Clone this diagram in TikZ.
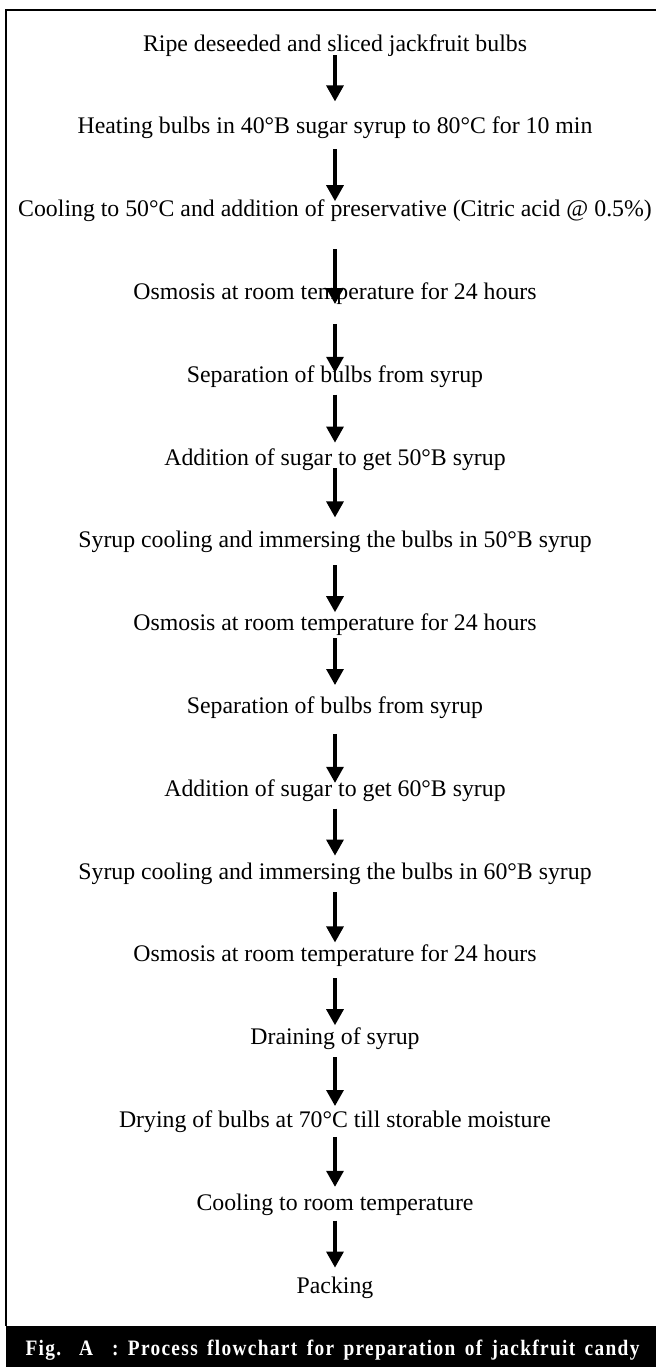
\documentclass[tikz,border=0pt]{standalone}
\usepackage{fontspec}
\setmainfont{Liberation Serif}
\usepackage{tikz}
\usetikzlibrary{positioning,arrows.meta}

\begin{document}
\begin{tikzpicture}[x=0.5pt,y=-0.5pt,
    stage/.style={inner sep=0pt,text height=8.5pt,text depth=2.5pt,font=\fontsize{11.9}{14}\selectfont},
    flow/.style={-{Triangle[width=8.5pt,length=8pt]},line width=1.6pt},
    node distance=30pt]
  \useasboundingbox (0,0) rectangle (656,1367);

  %frame and caption bar
  \draw[line width=0.6pt] (656,10) -- (6,10) -- (6,1326);
  \fill (6,1326) rectangle (656,1367);
  \node[text=white,inner sep=0pt,font=\bfseries\fontsize{11}{13}\selectfont\addfontfeature{FakeStretch=0.88,LetterSpace=6}] (cap) at (332.5,1350)
    {\makebox[307pt][s]{Fig. A\ \ : Process flowchart for preparation of jackfruit candy}};

  %stages
  \node[stage] (ripe) at (335,45) {Ripe deseeded and sliced jackfruit bulbs};
  \node[stage,below=of ripe] (heat) {Heating bulbs in 40°B sugar syrup to 80°C for 10 min};
  \node[stage,below=of heat] (cool) {Cooling to 50°C and addition of preservative (Citric acid @ 0.5\%)};
  \node[stage,below=of cool] (osmA) {Osmosis at room temperature for 24 hours};
  \node[stage,below=of osmA] (sepA) {Separation of bulbs from syrup};
  \node[stage,below=of sepA] (addA) {Addition of sugar to get 50°B syrup};
  \node[stage,below=of addA] (immA) {Syrup cooling and immersing the bulbs in 50°B syrup};
  \node[stage,below=of immA] (osmB) {Osmosis at room temperature for 24 hours};
  \node[stage,below=of osmB] (sepB) {Separation of bulbs from syrup};
  \node[stage,below=of sepB] (addB) {Addition of sugar to get 60°B syrup};
  \node[stage,below=of addB] (immB) {Syrup cooling and immersing the bulbs in 60°B syrup};
  \node[stage,below=of immB] (osmC) {Osmosis at room temperature for 24 hours};
  \node[stage,below=of osmC] (drain) {Draining of syrup};
  \node[stage,below=of drain] (dry) {Drying of bulbs at 70°C till storable moisture};
  \node[stage,below=of dry] (coolrt) {Cooling to room temperature};
  \node[stage,below=of coolrt] (pack) {Packing};

  %arrows
  \draw[flow,shorten <=-0.5pt,shorten >=7.5pt] (ripe) -- (heat);
  \draw[flow,shorten <=5pt,shorten >=-1pt] (heat) -- (cool);
  \draw[flow,shorten <=13.5pt,shorten >=-11pt] (cool) -- (osmA);
  \draw[flow,shorten <=9.5pt,shorten >=-4pt] (osmA) -- (sepA);
  \draw[flow,shorten <=3.5pt,shorten >=2.5pt] (sepA) -- (addA);
  \draw[flow,shorten <=-1pt,shorten >=6.5pt] (addA) -- (immA);
  \draw[flow,shorten <=6pt,shorten >=0.5pt] (immA) -- (osmB);
  \draw[flow,shorten <=1pt,shorten >=5.5pt] (osmB) -- (sepB);
  \draw[flow,shorten <=7.5pt,shorten >=-2pt] (sepB) -- (addB);
  \draw[flow,shorten <=3.5pt,shorten >=3pt] (addB) -- (immB);
  \draw[flow,shorten <=4pt,shorten >=1pt] (immB) -- (osmC);
  \draw[flow,shorten <=5.5pt,shorten >=1pt] (osmC) -- (drain);
  \draw[flow,shorten <=3.5pt,shorten >=2pt] (drain) -- (dry);
  \draw[flow,shorten <=2pt,shorten >=3pt] (dry) -- (coolrt);
  \draw[flow,shorten <=2.5pt,shorten >=4pt] (coolrt) -- (pack);
\end{tikzpicture}
\end{document}
